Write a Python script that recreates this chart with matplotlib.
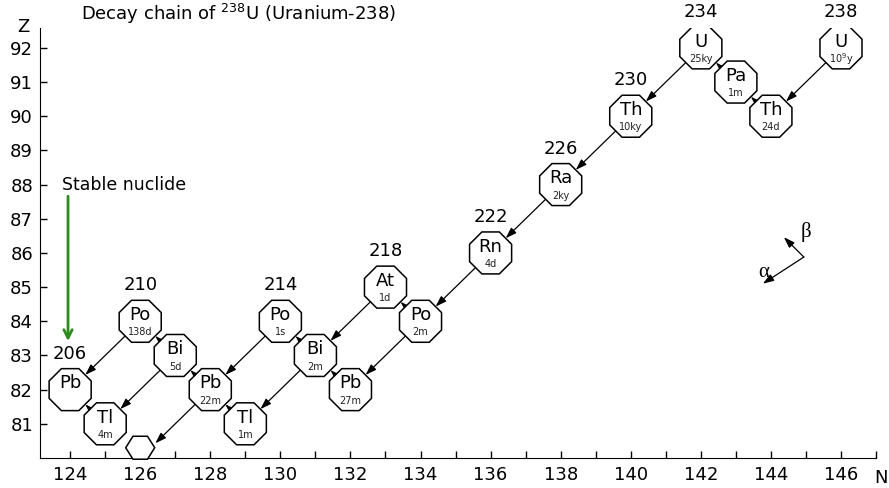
import numpy as np
import matplotlib
matplotlib.use("Agg")
import matplotlib.pyplot as plt
from matplotlib.patches import Polygon

plt.rcParams['font.family'] = ['DejaVu Sans']

# nuclides of the 238U chain: symbol, neutron number N, proton number Z, half-life
symbols = ["U", "Th", "Pa", "U", "Th", "Ra", "Rn", "Po", "At", "Pb", "Bi", "Po",
           "Tl", "Pb", "Bi", "Po", "Tl", "Pb"]
n_vals = [146, 144, 143, 142, 140, 138, 136, 134, 133, 132, 131, 130, 129, 128, 127, 126, 125, 124]
z_vals = [92, 90, 91, 92, 90, 88, 86, 84, 85, 82, 83, 84, 81, 82, 83, 84, 81, 82]
half_lives = ["10$^9$y", "24d", "1m", "25ky", "10ky", "2ky", "4d", "2m", "1d", "27m", "2m", "1s",
              "1m", "22m", "5d", "138d", "4m", ""]

# alpha decays (N-2, Z-2) and beta decays (N-1, Z+1), given by parent (N, Z)
alpha_n = [146, 142, 140, 138, 136, 134, 133, 131, 130, 128, 127, 126]
alpha_z = [92, 92, 90, 88, 86, 84, 85, 83, 84, 82, 83, 84]
beta_n = [144, 143, 134, 132, 131, 129, 128, 127, 125]
beta_z = [90, 91, 84, 82, 83, 81, 82, 83, 81]

# mass number labels
mass_numbers = [238, 234, 230, 226, 222, 218, 214, 210, 206]
mass_n = [146, 142, 140, 138, 136, 133, 130, 126, 124]
mass_z = [92, 92, 90, 88, 86, 85, 84, 84, 82]

# end product below the axis (Hg 206, partly cut)
hex_n, hex_z = 126, 80.3

fig = plt.figure(figsize=(8.89, 4.88), dpi=100)
ax = fig.add_axes([0.045, 0.0615, 0.9404, 0.881])
ax.set_xlim(123.14, 147)
ax.set_ylim(80, 92.58)

rx, rz = 0.6, 0.614   # octagon half size in data units (about 21 px)


def octagon(n, z):
    ang = np.deg2rad(22.5 + 45 * np.arange(8))
    k = 1 / np.cos(np.deg2rad(22.5))
    pts = np.column_stack([n + rx * k * np.cos(ang), z + rz * k * np.sin(ang)])
    return Polygon(pts, closed=True, facecolor="white", edgecolor="black", lw=1.1, zorder=3)


for s, n, z, hl in zip(symbols, n_vals, z_vals, half_lives):
    ax.add_patch(octagon(n, z))
    ax.annotate(s, (n, z), xytext=(0, 4.5), textcoords="offset points",
                ha="center", va="center", fontsize=13, zorder=4)
    if hl:
        ax.annotate(hl, (n, z), xytext=(0, -8), textcoords="offset points",
                    ha="center", va="center", fontsize=7, color="#222222", zorder=4)

# hexagon for the final product
hx = hex_n + np.array([-0.414, -0.207, 0.207, 0.414, 0.207, -0.207])
hz = hex_z + np.array([0, 0.336, 0.336, 0, -0.336, -0.336])
ax.add_patch(Polygon(np.column_stack([hx, hz]), closed=True, facecolor="white",
                     edgecolor="black", lw=1.1, zorder=3, clip_on=False))

arrow_kw = dict(arrowstyle="-|>,head_length=0.65,head_width=0.22", lw=0.9, color="black",
                shrinkA=0, shrinkB=0)

for n, z in zip(alpha_n, alpha_z):
    f0, f1 = 0.215, 0.785
    ax.annotate("", xy=(n - 2 * f1, z - 2 * f1), xytext=(n - 2 * f0, z - 2 * f0),
                arrowprops=arrow_kw, zorder=2)

for n, z in zip(beta_n, beta_z):
    f0, f1 = 0.43, 0.57
    ax.annotate("", xy=(n - f1, z + f1), xytext=(n - f0, z + f0),
                arrowprops=dict(arrowstyle="-|>,head_length=0.35,head_width=0.12", lw=0.8,
                                color="black", shrinkA=0, shrinkB=0), zorder=5)

for m, n, z in zip(mass_numbers, mass_n, mass_z):
    ax.text(n, z + 1.05, str(m), ha="center", va="center", fontsize=13)

# stable nuclide marker
ax.annotate("", xy=(123.94, 83.42), xytext=(123.94, 87.66),
            arrowprops=dict(arrowstyle="->,head_length=0.6,head_width=0.3", lw=2,
                            color="#2e8b1e", shrinkA=0, shrinkB=0))
ax.text(123.77, 88.0, "Stable nuclide", ha="left", va="center", fontsize=12.5)

# alpha / beta direction key
ax.annotate("", xy=(144.37, 86.46), xytext=(144.94, 85.88), arrowprops=arrow_kw)
ax.annotate("", xy=(143.77, 85.1), xytext=(144.94, 85.88), arrowprops=arrow_kw)
ax.text(145.0, 86.61, "β", fontsize=15, ha="center", va="center", family="Liberation Serif")
ax.text(143.8, 85.44, "α", fontsize=15, ha="center", va="center", family="Liberation Serif")

ax.spines[["top", "right"]].set_visible(False)
ax.set_xticks(range(124, 147, 2))
ax.set_xticks(range(125, 148, 2), minor=True)
ax.set_yticks(range(81, 93))
ax.tick_params(axis="both", direction="in", length=5, width=1, labelsize=13)
ax.tick_params(axis="x", which="minor", direction="in", length=5, width=1)
ax.tick_params(axis="x", pad=6)
ax.tick_params(axis="y", pad=5)

fig.text(23 / 889, 1 - 27 / 488, "Z", fontsize=13, ha="center", va="center")
fig.text(881 / 889, 1 - 478 / 488, "N", fontsize=13, ha="center", va="center")
fig.text(81 / 889, 1 - 14 / 488, "Decay chain of $^{238}$U (Uranium-238)", fontsize=13,
         ha="left", va="center")

fig.savefig("out.png", dpi=100)
